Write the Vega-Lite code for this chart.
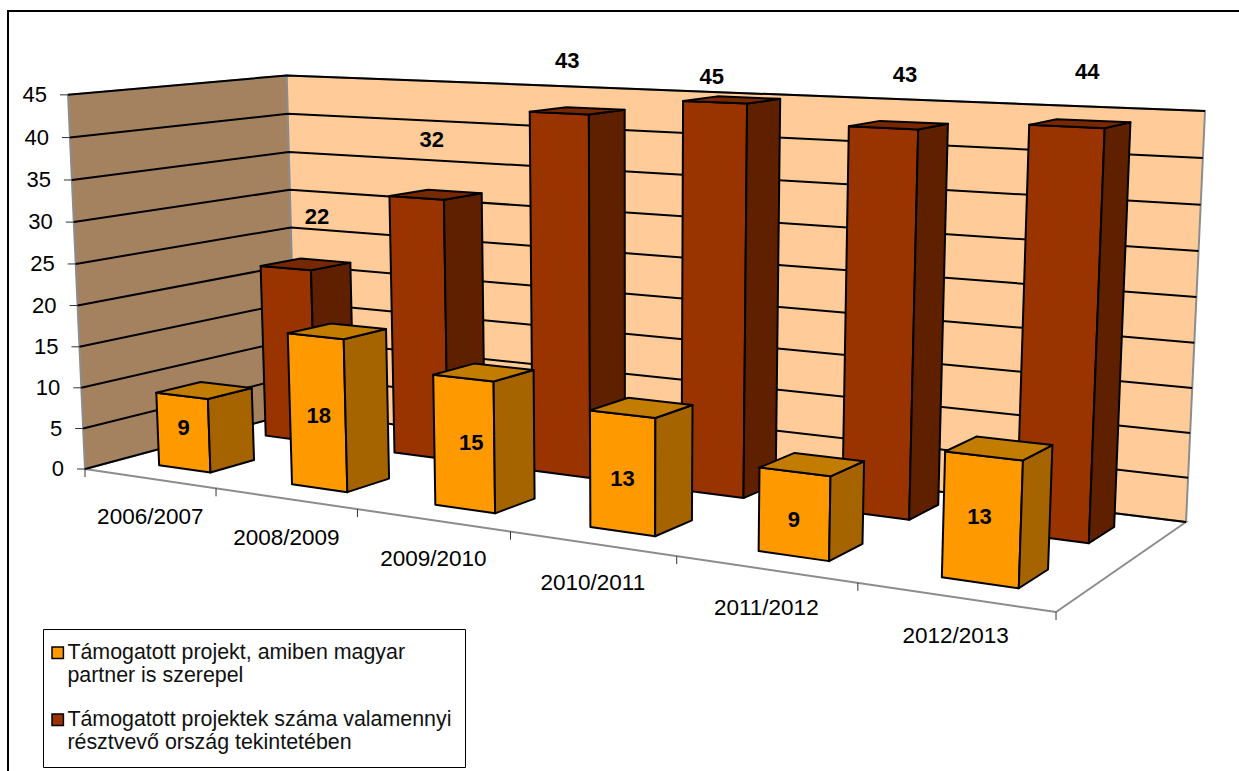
{"$schema":"https://vega.github.io/schema/vega-lite/v6.json","autosize":{"type":"none"},"padding":{"left":8,"top":11,"right":0,"bottom":0},"width":1232,"height":762,"background":"white","view":{"stroke":"black","strokeWidth":2,"fill":null},
"config":{"font":"Liberation Sans"},
"datasets":{"bars":[
{"year":"2006/2007","series":"Támogatott projektek száma valamennyi résztvevő ország tekintetében","value":22},
{"year":"2008/2009","series":"Támogatott projektek száma valamennyi résztvevő ország tekintetében","value":32},
{"year":"2009/2010","series":"Támogatott projektek száma valamennyi résztvevő ország tekintetében","value":43},
{"year":"2010/2011","series":"Támogatott projektek száma valamennyi résztvevő ország tekintetében","value":45},
{"year":"2011/2012","series":"Támogatott projektek száma valamennyi résztvevő ország tekintetében","value":43},
{"year":"2012/2013","series":"Támogatott projektek száma valamennyi résztvevő ország tekintetében","value":44},
{"year":"2006/2007","series":"Támogatott projekt, amiben magyar partner is szerepel","value":9},
{"year":"2008/2009","series":"Támogatott projekt, amiben magyar partner is szerepel","value":18},
{"year":"2009/2010","series":"Támogatott projekt, amiben magyar partner is szerepel","value":15},
{"year":"2010/2011","series":"Támogatott projekt, amiben magyar partner is szerepel","value":13},
{"year":"2011/2012","series":"Támogatott projekt, amiben magyar partner is szerepel","value":9},
{"year":"2012/2013","series":"Támogatott projekt, amiben magyar partner is szerepel","value":13}],
"ticks":[{"tick":0},{"tick":5},{"tick":10},{"tick":15},{"tick":20},{"tick":25},{"tick":30},{"tick":35},{"tick":40},{"tick":45}],
"faces":[{"face":"floor"},{"face":"left"},{"face":"back"}],
"catTicks":[{"edge":0},{"edge":1},{"edge":2},{"edge":3},{"edge":4},{"edge":5},{"edge":6}]},
"layer":[
{"data":{"name":"faces"},"transform":[
{"calculate":"[0,1,2,3]","as":"cs"},{"flatten":["cs"],"as":["c"]},
{"calculate":"datum.face=='left'?0:((datum.c==1||datum.c==2)?1:0)","as":"u"},
{"calculate":"datum.face=='back'?1:(datum.face=='left'?((datum.c==1||datum.c==2)?1:0):(datum.c>=2?1:0))","as":"w"},
{"calculate":"datum.face=='floor'?0:(datum.c>=2?1:0)","as":"h"},
{"calculate":"(738.7*datum.u+247.4*datum.w+85-19*datum.h)/(1-0.22*datum.u+0.1231*datum.w-0.03*datum.h)","as":"sx"},
{"calculate":"(8.4*datum.u-6*datum.w+469-377*datum.h+6*datum.u*datum.h-3.5*datum.w*datum.h)/(1-0.22*datum.u+0.1231*datum.w-0.03*datum.h)","as":"sy"}],
"mark":{"type":"line","interpolate":"linear-closed","stroke":"#8c8c8c","strokeWidth":2},
"encoding":{"x":{"field":"sx","type":"quantitative","scale":{"domain":[8,1240],"nice":false,"zero":false},"axis":null},
"y":{"field":"sy","type":"quantitative","scale":{"domain":[773,11],"nice":false,"zero":false},"axis":null},
"order":{"field":"c"},"detail":{"field":"face"},
"fill":{"field":"face","type":"nominal"}}},
{"data":{"name":"ticks"},"transform":[
{"calculate":"[0,1,2]","as":"cs"},{"flatten":["cs"],"as":["c"]},
{"calculate":"datum.c==2?1:0","as":"u"},
{"calculate":"datum.c>=1?1:0","as":"w"},
{"calculate":"datum.tick/45","as":"h"},
{"calculate":"(738.7*datum.u+247.4*datum.w+85-19*datum.h)/(1-0.22*datum.u+0.1231*datum.w-0.03*datum.h)","as":"sx"},
{"calculate":"(8.4*datum.u-6*datum.w+469-377*datum.h+6*datum.u*datum.h-3.5*datum.w*datum.h)/(1-0.22*datum.u+0.1231*datum.w-0.03*datum.h)","as":"sy"}],
"mark":{"type":"line","stroke":"black","strokeWidth":2},
"encoding":{"x":{"field":"sx","type":"quantitative","axis":null},"y":{"field":"sy","type":"quantitative","axis":null},"order":{"field":"c"},"detail":{"field":"tick"}}},
{"data":{"name":"ticks"},"transform":[
{"calculate":"datum.tick/45","as":"h"},
{"calculate":"(85-19*datum.h)/(1-0.03*datum.h)","as":"sx"},
{"calculate":"datum.sx-8","as":"sx2"},
{"calculate":"(469-377*datum.h)/(1-0.03*datum.h)","as":"sy"}],
"mark":{"type":"rule","stroke":"#333333","strokeWidth":1},
"encoding":{"x":{"field":"sx","type":"quantitative","axis":null},"x2":{"field":"sx2"},"y":{"field":"sy","type":"quantitative","axis":null},"y2":{"field":"sy"}}},
{"data":{"name":"ticks"},"transform":[
{"calculate":"datum.tick/45","as":"h"},
{"calculate":"(85-19*datum.h)/(1-0.03*datum.h)-21","as":"sx"},
{"calculate":"(469-377*datum.h)/(1-0.03*datum.h)","as":"sy"}],
"mark":{"type":"text","align":"right","baseline":"middle","fontSize":22,"font":"Liberation Sans","color":"black"},
"encoding":{"x":{"field":"sx","type":"quantitative","axis":null},"y":{"field":"sy","type":"quantitative","axis":null},"text":{"field":"tick","type":"quantitative"}}},
{"data":{"name":"catTicks"},"transform":[
{"calculate":"datum.edge/6","as":"u"},
{"calculate":"(738.7*datum.u+85)/(1-0.22*datum.u)","as":"sx"},
{"calculate":"(8.4*datum.u+469)/(1-0.22*datum.u)","as":"sy"},
{"calculate":"datum.sy+8","as":"sy2"}],
"mark":{"type":"rule","stroke":"#333333","strokeWidth":1},
"encoding":{"x":{"field":"sx","type":"quantitative","axis":null},"x2":{"field":"sx"},"y":{"field":"sy","type":"quantitative","axis":null},"y2":{"field":"sy2"}}},
{"data":{"name":"bars"},"transform":[
{"filter":"indexof(datum.series,'magyar')>=0"},
{"calculate":"indexof(['2006/2007','2008/2009','2009/2010','2010/2011','2011/2012','2012/2013'],datum.year)","as":"i"},
{"calculate":"(datum.i+0.5)/6","as":"u"},
{"calculate":"(738.7*datum.u+85)/(1-0.22*datum.u)+1","as":"sx"},
{"calculate":"(8.4*datum.u+469)/(1-0.22*datum.u)+39","as":"sy"}],
"mark":{"type":"text","fontSize":22.5,"font":"Liberation Sans","color":"black","baseline":"middle"},
"encoding":{"x":{"field":"sx","type":"quantitative","axis":null},"y":{"field":"sy","type":"quantitative","axis":null},"text":{"field":"year"}}},
{"data":{"name":"bars"},"transform":[
{"calculate":"indexof(['2006/2007','2008/2009','2009/2010','2010/2011','2011/2012','2012/2013'],datum.year)","as":"i"},
{"calculate":"indexof(datum.series,'magyar')>=0?'a':'b'","as":"s"},
{"calculate":"datum.s=='a'?0.15:0.65","as":"wLo"},
{"calculate":"datum.wLo+0.2","as":"wHi"},
{"calculate":"(datum.i+0.31)/6","as":"uLo"},
{"calculate":"(datum.i+0.705)/6","as":"uHi"},
{"calculate":"[0,1,2]","as":"fs"},{"flatten":["fs"],"as":["f"]},
{"calculate":"[0,1,2,3]","as":"cs"},{"flatten":["cs"],"as":["c"]},
{"calculate":"(datum.f==1||datum.c==1||datum.c==2)?datum.uHi:datum.uLo","as":"u"},
{"calculate":"datum.f==0?datum.wLo:(datum.f==1?((datum.c==1||datum.c==2)?datum.wHi:datum.wLo):(datum.c>=2?datum.wHi:datum.wLo))","as":"w"},
{"calculate":"datum.f==2?datum.value/45:(datum.c>=2?datum.value/45:0)","as":"h"},
{"calculate":"datum.s+datum.f","as":"key"},
{"calculate":"datum.year+datum.key","as":"poly"},
{"calculate":"(738.7*datum.u+247.4*datum.w+85-19*datum.h)/(1-0.22*datum.u+0.1231*datum.w-0.03*datum.h)","as":"sx"},
{"calculate":"(8.4*datum.u-6*datum.w+469-377*datum.h+6*datum.u*datum.h-3.5*datum.w*datum.h)/(1-0.22*datum.u+0.1231*datum.w-0.03*datum.h)","as":"sy"}],
"mark":{"type":"line","interpolate":"linear-closed","stroke":"black","strokeWidth":2,"strokeJoin":"round"},
"encoding":{"x":{"field":"sx","type":"quantitative","axis":null},"y":{"field":"sy","type":"quantitative","axis":null},"order":{"field":"c"},"detail":{"field":"poly"},
"fill":{"field":"key","type":"nominal","scale":{"domain":["a0","a1","a2","b0","b1","b2","floor","left","back"],"range":["#FF9900","#A66400","#C27C00","#993300","#5F2000","#772800","#FFFFFF","#A5825F","#FFCC99"]},
"legend":{"values":["a0","b0"],"title":null,"orient":"none","legendX":35,"legendY":618,"fillColor":"white","strokeColor":"black","padding":13,"symbolType":"square","symbolSize":130,"symbolOffset":-9,"labelOffset":-1,"labelFont":"Liberation Sans","labelFontSize":21.4,"labelColor":"#111111","labelLimit":600,"rowPadding":21,"encoding":{"symbols":{"update":{"stroke":{"value":"black"},"strokeWidth":{"value":2.5}}}},"labelExpr":"datum.label=='a0'?['Támogatott projekt, amiben magyar','partner is szerepel']:['Támogatott projektek száma valamennyi','résztvevő ország tekintetében']"}}}},
{"data":{"name":"bars"},"transform":[
{"filter":"indexof(datum.series,'magyar')>=0"},
{"calculate":"indexof(['2006/2007','2008/2009','2009/2010','2010/2011','2011/2012','2012/2013'],datum.year)","as":"i"},
{"calculate":"(datum.i+0.495)/6","as":"u"},
{"calculate":"datum.value/90","as":"h"},
{"calculate":"(738.7*datum.u+247.4*0.15+85-19*datum.h)/(1-0.22*datum.u+0.1231*0.15-0.03*datum.h)+[2,3,9,2,2,0][datum.i]","as":"sx"},
{"calculate":"(8.4*datum.u-6*0.15+469-377*datum.h)/(1-0.22*datum.u+0.1231*0.15-0.03*datum.h)+[-4,4,0,7,7,-1][datum.i]","as":"sy"}],
"mark":{"type":"text","fontSize":22,"fontWeight":"bold","font":"Liberation Sans","color":"black","baseline":"middle"},
"encoding":{"x":{"field":"sx","type":"quantitative","axis":null},"y":{"field":"sy","type":"quantitative","axis":null},"text":{"field":"value","type":"quantitative"}}},
{"data":{"name":"bars"},"transform":[
{"filter":"indexof(datum.series,'magyar')<0"},
{"calculate":"indexof(['2006/2007','2008/2009','2009/2010','2010/2011','2011/2012','2012/2013'],datum.year)","as":"i"},
{"calculate":"(datum.i+0.495)/6","as":"u"},
{"calculate":"datum.value/45","as":"h"},
{"calculate":"(738.7*datum.u+247.4*0.65+85-19*datum.h)/(1-0.22*datum.u+0.1231*0.65-0.03*datum.h)+[33,17,10,-1,24,23][datum.i]","as":"sx"},
{"calculate":"(8.4*datum.u-6*0.65+469-377*datum.h)/(1-0.22*datum.u+0.1231*0.65-0.03*datum.h)+[-52,-58,-52,-24,-50,-51][datum.i]","as":"sy"}],
"mark":{"type":"text","fontSize":22,"fontWeight":"bold","font":"Liberation Sans","color":"black","baseline":"middle"},
"encoding":{"x":{"field":"sx","type":"quantitative","axis":null},"y":{"field":"sy","type":"quantitative","axis":null},"text":{"field":"value","type":"quantitative"}}}
]}
